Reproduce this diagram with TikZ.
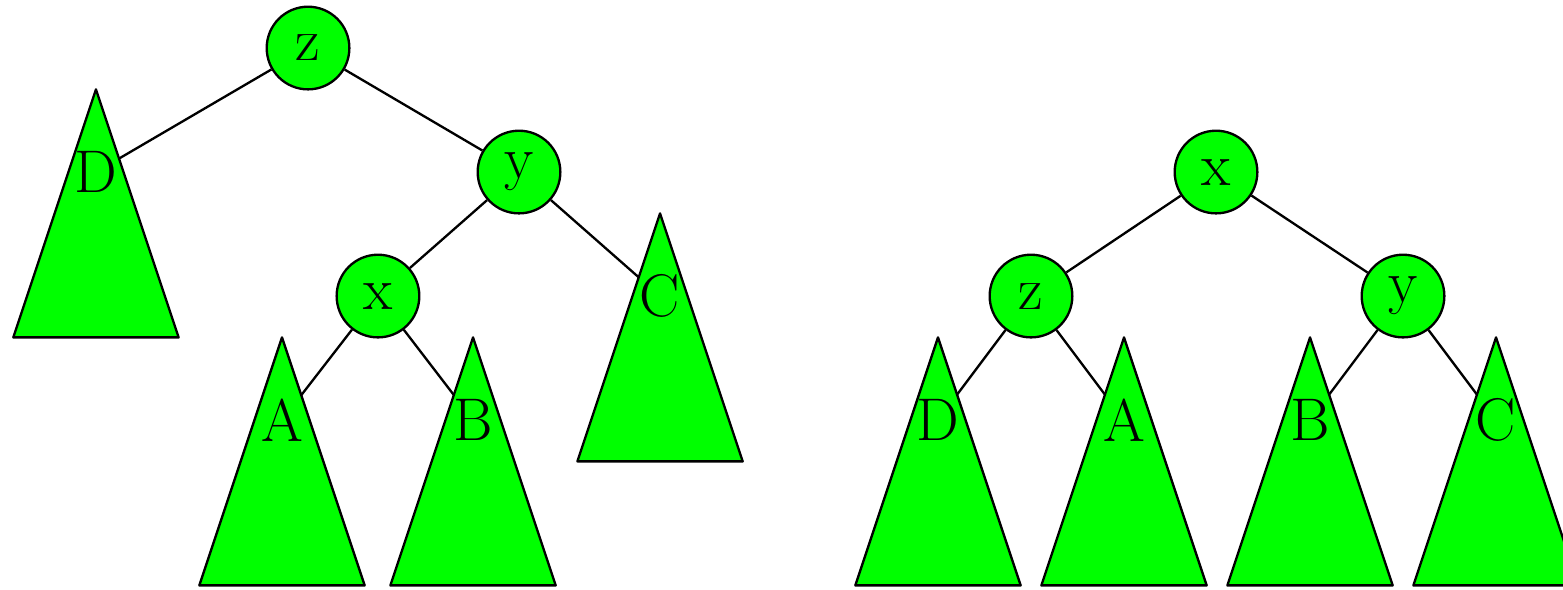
\documentclass[tikz,border=0pt]{standalone}
\usetikzlibrary{backgrounds}

\begin{document}
\begin{tikzpicture}[
    vertex/.style={draw, thick, circle, fill=green, minimum size=1cm, inner sep=0pt, font=\huge},
    leaf/.style={inner sep=2pt, font=\huge},
    tri/.style={draw, thick, fill=green, line join=round},
    edge/.style={thick}
]
\useasboundingbox (0,0) rectangle (18.906,-7.125);

% Left tree: inner nodes
\node[vertex] (lz) at (3.726,-0.581) {z};
\node[vertex] (ly) at (6.278,-2.081) {y};
\node[vertex] (lx) at (4.572,-3.581) {x};

% Right tree: inner nodes
\node[vertex] (rx) at (14.709,-2.081) {x};
\node[vertex] (rz) at (12.471,-3.581) {z};
\node[vertex] (ry) at (16.971,-3.581) {y};

% Subtrees (triangle with its label)
\foreach \name/\lbl/\x/\y in {lD/D/1.161/-2.081, lA/A/3.411/-5.081, lB/B/5.722/-5.081, lC/C/7.984/-3.581,
                               rD/D/11.346/-5.081, rA/A/13.596/-5.081, rB/B/15.846/-5.081, rC/C/18.096/-5.081}
{
  \draw[tri] (\x,\y) ++(0,1) -- ++(-1,-3) -- ++(2,0) -- cycle;
  \node[leaf] (\name) at (\x,\y) {\lbl};
}

% Edges
\begin{pgfonlayer}{background}
\draw[edge] (lz) -- (lD.center);
\draw[edge] (lz) -- (ly);
\draw[edge] (ly) -- (lx);
\draw[edge] (ly) -- (lC.center);
\draw[edge] (lx) -- (lA.center);
\draw[edge] (lx) -- (lB.center);

\draw[edge] (rx) -- (rz);
\draw[edge] (rx) -- (ry);
\draw[edge] (rz) -- (rD.center);
\draw[edge] (rz) -- (rA.center);
\draw[edge] (ry) -- (rB.center);
\draw[edge] (ry) -- (rC.center);
\end{pgfonlayer}

\end{tikzpicture}
\end{document}
